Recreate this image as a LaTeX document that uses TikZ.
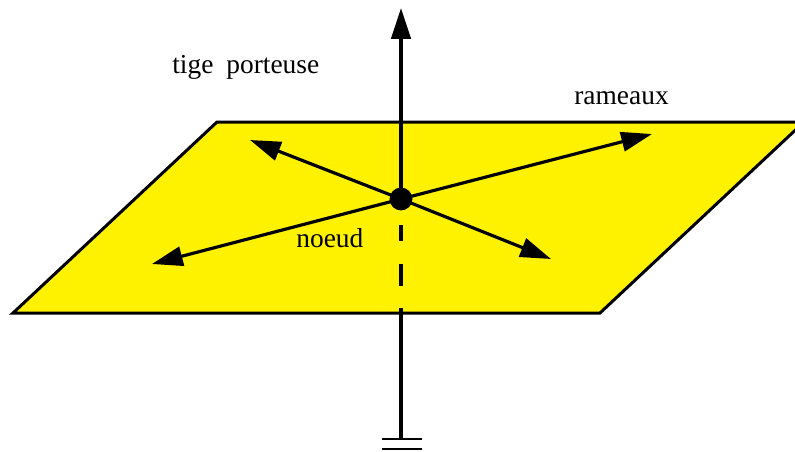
\documentclass[tikz,border=0pt]{standalone}
\usepackage{fontspec}
\setmainfont{Liberation Serif}
\usetikzlibrary{arrows.meta}
\definecolor{planYellow}{HTML}{FFF200}
\tikzset{
  lbl/.style={inner sep=0pt, anchor=base west, font=\fontsize{15.6pt}{17pt}\selectfont},
  stem/.style={line width=1.8pt, draw=black},
  sol/.style={line width=1.4pt, draw=black},
  arr/.style={stem, -{Triangle[length=17.5pt, width=11pt]}},
  hub/.style={circle, fill=black, inner sep=0pt, minimum size=13pt},
}

\begin{document}
\begin{tikzpicture}[x=0.02cm, y=-0.02cm]
        \useasboundingbox (0,0) rectangle (795,451);
        \clip (0,0) rectangle (795,451);
        % plan
        \draw[fill=planYellow, line width=1.7pt, line join=miter] (217,122) -- (804,122) -- (600,313) -- (13,313) -- cycle;
        \node[hub] (noeud) at (401,199) {};
        \coordinate (haut) at (401,8);
        \coordinate (gA) at (250,140);
        \coordinate (gB) at (152,264);
        \coordinate (dA) at (652,134);
        \coordinate (dB) at (551,259);
        \foreach \tip in {haut,gA,gB,dA,dB}{
            \draw[arr] (noeud.center) -- (\tip);
        }
        % partie cachee et tige basse
        \coordinate (c1) at (401,225);
        \coordinate (c2) at (401,241);
        \coordinate (c3) at (401,264);
        \coordinate (c4) at (401,286);
        \coordinate (c5) at (401,308);
        \coordinate (base) at (401,439);
        \draw[stem] (c1) -- (c2);
        \draw[stem] (c3) -- (c4);
        \draw[stem] (c5) -- (base);
        \coordinate (t1) at (382,439);
        \coordinate (t2) at (422,439);
        \coordinate (t3) at (382,449);
        \coordinate (t4) at (422,449);
        \draw[sol] (t1) -- (t2);
        \draw[sol] (t3) -- (t4);
        % textes
        \node[lbl] (tige) at (172,73) {tige\hspace{0.22em} porteuse};
        \node[lbl] (ram) at (574,104) {rameaux};
        \node[lbl] (nd) at (296,247) {noeud};
    \end{tikzpicture}
\end{document}
